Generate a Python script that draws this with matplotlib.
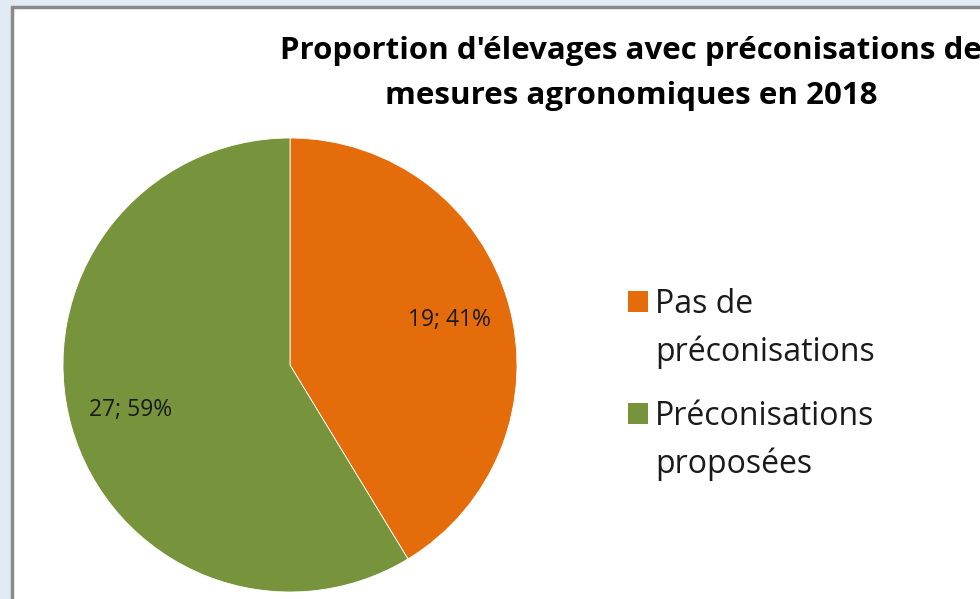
#!/usr/bin/env python3
"""
Proportion d'élevages avec préconisations de mesures agronomiques en 2018
"""

import matplotlib.pyplot as plt
from matplotlib.patches import Rectangle

# Data
categories = ["Pas de\npréconisations", "Préconisations\nproposées"]
counts = [19, 27]
colors = ["#E46C0A", "#77933C"]
title = "Proportion d'élevages avec préconisations de\nmesures agronomiques en 2018"

FONT = "Open Sans"
W, H = 980, 599


def make_label(pct):
    total = sum(counts)
    n = int(round(pct * total / 100.0))
    return f"{n}; {pct:.0f}%"


def px(x, y):
    """pixel position (from top-left) -> figure fraction"""
    return x / W, 1 - y / H


def main():
    fig = plt.figure(figsize=(9.8, 5.99), dpi=100)
    fig.patch.set_facecolor("#e1eaf5")

    # white chart panel with grey border (extends past right/bottom edges)
    panel = Rectangle((12 / W, -0.1), 1.2, (H - 7) / H + 0.1,
                      transform=fig.transFigure, facecolor="white",
                      edgecolor="#8a8a8a", linewidth=2.5, zorder=-10)
    fig.patches.append(panel)

    # pie axes: centre (290, 365), radius 227 px
    ax = fig.add_axes([63 / W, (H - 592) / H, 454 / W, 454 / H])
    ax.set_facecolor("none")
    wedges, texts, autotexts = ax.pie(
        counts, colors=colors, startangle=90, counterclock=False,
        autopct=make_label, pctdistance=0.73,
        wedgeprops=dict(edgecolor="white", linewidth=0.6),
        textprops=dict(fontsize=16.5, family=FONT, color="#1a1a1a"))
    ax.set_xlim(-1, 1)
    ax.set_ylim(-1, 1)
    ax.set_aspect("equal")

    # legend: square + wrapped label, one text line at a time
    top = 291
    for i, (lab, col) in enumerate(zip(categories, colors)):
        y0 = top + i * 112
        fig.patches.append(Rectangle(px(628, y0 + 21), 20 / W, 21 / H,
                                     transform=fig.transFigure,
                                     facecolor=col, edgecolor="none"))
        for j, line in enumerate(lab.split("\n")):
            fig.text(*px(655, y0 + 22 + j * 48), line, ha="left",
                     va="baseline", fontsize=23, family=FONT,
                     color="#1a1a1a")

    for j, line in enumerate(title.split("\n")):
        fig.text(*px(631, 59 + j * 45), line, ha="center", va="baseline",
                 fontsize=22.5, fontweight="bold", family=FONT, color="black")

    plt.savefig("out.png", dpi=100)


if __name__ == "__main__":
    main()
